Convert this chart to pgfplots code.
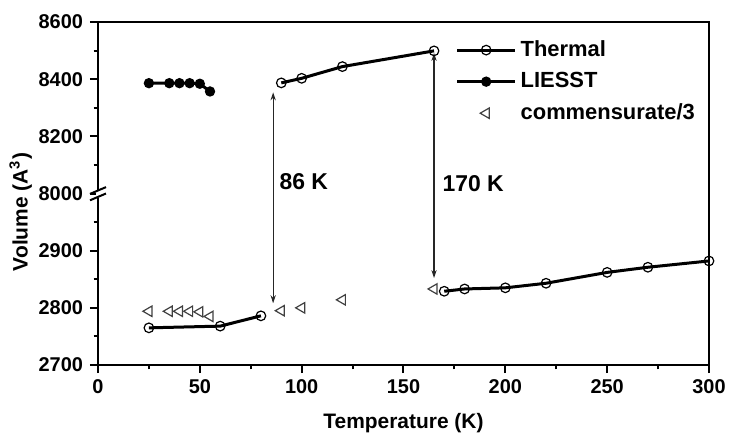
\documentclass[border=0pt]{standalone}
\usepackage{fontspec}
\setmainfont{Liberation Sans}
\usepackage{pgfplots}
\pgfplotsset{compat=1.18}
\usetikzlibrary{arrows.meta}

\begin{document}
\begin{tikzpicture}
\useasboundingbox (-49bp,-34.5bp) rectangle (315.5bp,182.5bp);
\begin{axis}[
  scale only axis, width=305.5bp, height=171.5bp,
  xmin=0, xmax=300, ymin=2700, ymax=3300,
  xtick={0,50,...,300}, minor x tick num=1,
  ytick={2700,2800,2900,3000,3100,3200,3300},
  yticklabels={2700,2800,2900,8000,8200,8400,8600},
  minor y tick num=1,
  tick align=outside,
  major tick length=4bp, minor tick length=2.2bp,
  xtick pos=bottom, ytick pos=left,
  axis line style={line width=1.2bp},
  every tick/.style={line width=1bp,black},
  /pgf/number format/assume math mode=true,
  tick label style={font=\bfseries\fontsize{10}{12}\selectfont},
  label style={font=\bfseries\fontsize{10.5}{12}\selectfont},
  xlabel={Temperature (K)},
  xlabel style={yshift=-2.5bp},
  ylabel={Volume (A\textsuperscript{3})},
  ylabel style={at={(ticklabel cs:0.446)}, yshift=-3.5bp},
  clip=false,
  legend cell align=left,
  legend style={draw=none, fill=none, at={(0.575,0.97)}, anchor=north west,
    font=\bfseries\fontsize{11}{13}\selectfont, row sep=2.5bp},
  legend image code/.code={\draw[mark repeat=2,mark phase=2,#1] plot coordinates {(0bp,0bp)(14.5bp,0bp)(29bp,0bp)};},
]
% Thermal
\addplot[line width=1.5bp, mark=o, mark size=2.4bp, mark options={fill=white, line width=0.6bp, solid}]
  coordinates {(25,2765)(60,2768)(80,2786)};
\addlegendentry{Thermal}
% LIESST (upper scale)
\addplot[line width=1.5bp, mark=*, mark size=1.8bp, y filter/.expression={3000+(y-8000)/2}]
  coordinates {(25,8386)(35,8386)(40,8386)(45,8386)(50,8384)(55,8357)};
\addlegendentry{LIESST}
% commensurate/3
\addplot[only marks, mark=triangle, mark size=3bp, mark options={rotate=90, draw=black!75, line width=0.6bp}]
  coordinates {(25,2794)(35,2794)(40,2794)(45,2794)(50,2793)(55,2785)(90,2795)(100,2800)(120,2814)(165,2833)};
\addlegendentry{commensurate/3}
\addplot[forget plot, line width=1.5bp, mark=o, mark size=2.4bp, mark options={fill=white, line width=0.6bp, solid}, y filter/.expression={3000+(y-8000)/2}]
  coordinates {(90,8387)(100,8403)(120,8444)(165,8499)};
\addplot[forget plot, line width=1.5bp, mark=o, mark size=2.4bp, mark options={fill=white, line width=0.6bp, solid}]
  coordinates {(170,2829)(180,2833)(200,2835)(220,2843)(250,2862)(270,2871)(300,2882)};
% transition arrows
\draw[black!85, line width=0.55bp, {Stealth[length=4bp,width=2.6bp]}-{Stealth[length=4bp,width=2.6bp]}]
  (axis cs:86,2808) -- (axis cs:86,3177);
\draw[black!85, line width=0.55bp, {Stealth[length=4bp,width=2.6bp]}-{Stealth[length=4bp,width=2.6bp]}]
  (axis cs:165,2852) -- (axis cs:165,3246);
\node[anchor=west, font=\bfseries\fontsize{11.5}{13}\selectfont, inner sep=0pt] at (axis cs:89,3020) {86 K};
\node[anchor=west, font=\bfseries\fontsize{11.5}{13}\selectfont, inner sep=0pt] at (axis cs:169,3017) {170 K};
\coordinate (brk) at (axis cs:0,3000);
\end{axis}
% axis break
\fill[white] ([xshift=-1bp,yshift=-2bp]brk) rectangle ([xshift=1bp,yshift=2bp]brk);
\draw[line width=1bp] ([xshift=-4bp,yshift=-0.2bp]brk) -- ([xshift=4bp,yshift=3.2bp]brk);
\draw[line width=1bp] ([xshift=-4bp,yshift=-3.4bp]brk) -- ([xshift=4bp,yshift=0bp]brk);
\end{tikzpicture}
\end{document}
